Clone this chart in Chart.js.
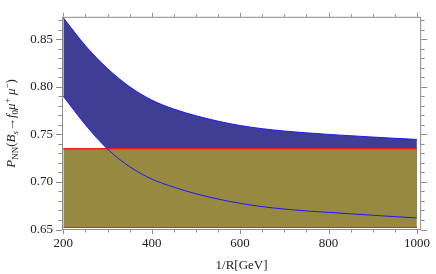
<!DOCTYPE html>
<html>
<head>
<meta charset="utf-8">
<script src="https://cdn.jsdelivr.net/npm/chart.js@4.4.1/dist/chart.umd.min.js"></script>
<style>
  html, body { margin: 0; padding: 0; background: #fff; }
</style>
</head>
<body>
<canvas id="chart" width="436" height="274"></canvas>
<script>
// data
const xVals     = [200, 250, 300, 350, 400, 450, 500, 550, 600, 650, 700, 750, 800, 850, 900, 950, 1000];
const upperVals = [0.8724, 0.8430, 0.8190, 0.8000, 0.7860, 0.7765, 0.7695, 0.7638, 0.7592, 0.7559, 0.7534, 0.7515, 0.7499, 0.7485, 0.7471, 0.7458, 0.7446];
const lowerVals = [0.790, 0.760, 0.7345, 0.716, 0.703, 0.6945, 0.6875, 0.682, 0.6775, 0.674, 0.6715, 0.6695, 0.668, 0.6665, 0.665, 0.6635, 0.6622];
const bandX      = [200, 1000];
const bandTop    = [0.7347, 0.7347];
const bandBottom = [0.6522, 0.6522];
const xTicks = [200, 400, 600, 800, 1000];
const yTicks = [0.65, 0.70, 0.75, 0.80, 0.85];

const SERIF = "'Liberation Serif', 'DejaVu Serif', serif";
const FRAME = '#8c8c8c';

const pts = (xs, ys) => xs.map((x, i) => ({ x: x, y: ys[i] }));

// ── frame with outward ticks (Mathematica look) ──
const framePlugin = {
  id: 'frame',
  afterDraw(chart) {
    const { ctx, chartArea: a, scales: { x, y } } = chart;
    ctx.save();
    ctx.strokeStyle = FRAME;
    ctx.lineWidth = 1;
    ctx.strokeRect(a.left + 0.5, a.top + 0.5, a.right - a.left - 1, a.bottom - a.top - 1);
    ctx.beginPath();
    for (let v = 200; v <= 1000; v += 50) {
      const px = Math.round(x.getPixelForValue(v)) + 0.5;
      const len = v % 200 === 0 ? 4 : 2.5;
      ctx.moveTo(px, a.bottom); ctx.lineTo(px, a.bottom + len);
      ctx.moveTo(px, a.top); ctx.lineTo(px, a.top - len);
    }
    for (let i = 65; i <= 87; i++) {
      const py = Math.round(y.getPixelForValue(i / 100)) + 0.5;
      const len = i % 5 === 0 ? 6 : 3.5;
      ctx.moveTo(a.left, py); ctx.lineTo(a.left - len, py);
      ctx.moveTo(a.right, py); ctx.lineTo(a.right + len, py);
    }
    ctx.stroke();
    ctx.restore();
  }
};

// ── rotated y title with sub/superscripts ──
const yTitlePlugin = {
  id: 'ytitle',
  afterDraw(chart) {
    const { ctx, chartArea: a } = chart;
    const parts = [
      { t: 'P', f: 'italic 13px', dy: 0 },
      { t: 'NN', f: '9px', dy: 3 },
      { t: '(', f: '13px', dy: 0 },
      { t: 'B', f: 'italic 13px', dy: 0 },
      { t: 's', f: 'italic 9px', dy: 3 },
      { t: '\u2192', f: '13px', dy: 0 },
      { t: 'f', f: 'italic 13px', dy: 0 },
      { t: '0', f: '9px', dy: 3 },
      { t: '\u03bc', f: 'italic 13px', dy: 0 },
      { t: '+', f: '9px', dy: -5 },
      { t: ' \u03bc', f: 'italic 13px', dy: 0 },
      { t: '\u2212', f: '9px', dy: -5 },
      { t: ')', f: '13px', dy: 0 }
    ];
    ctx.save();
    let w = 0;
    parts.forEach(p => { ctx.font = p.f + ' ' + SERIF; p.w = ctx.measureText(p.t).width; w += p.w; });
    ctx.translate(15, (a.top + a.bottom) / 2);
    ctx.rotate(-Math.PI / 2);
    ctx.fillStyle = '#222';
    ctx.textBaseline = 'alphabetic';
    let cx = -w / 2;
    parts.forEach(p => {
      ctx.font = p.f + ' ' + SERIF;
      ctx.fillText(p.t, cx, p.dy);
      cx += p.w;
    });
    ctx.restore();
  }
};

new Chart(document.getElementById('chart'), {
  type: 'line',
  data: {
    datasets: [
      {
        data: pts(xVals, upperVals),
        borderColor: '#1a1aff',
        borderWidth: 1,
        backgroundColor: 'rgb(64,61,148)',
        fill: '+1',
        pointRadius: 0,
        cubicInterpolationMode: 'monotone',
        order: 4
      },
      {
        data: pts(xVals, lowerVals),
        borderColor: '#1a1aff',
        borderWidth: 1,
        fill: false,
        pointRadius: 0,
        cubicInterpolationMode: 'monotone',
        order: 2
      },
      {
        data: pts(bandX, bandTop),
        borderColor: '#f01c1c',
        borderWidth: 1.5,
        backgroundColor: 'rgb(152,137,65)',
        fill: '+1',
        pointRadius: 0,
        order: 3
      },
      {
        data: pts(bandX, bandBottom),
        borderColor: '#f01c1c',
        borderWidth: 1,
        fill: false,
        pointRadius: 0,
        order: 1
      }
    ]
  },
  options: {
    responsive: false,
    animation: false,
    devicePixelRatio: 1,
    layout: { padding: { top: 4, right: 9, left: 0, bottom: 0 } },
    plugins: { legend: { display: false }, tooltip: { enabled: false } },
    scales: {
      x: {
        type: 'linear',
        min: 197,
        max: 1009.6,
        afterBuildTicks: s => { s.ticks = xTicks.map(v => ({ value: v })); },
        afterFit: s => { s.height = 44; },
        grid: { display: false, drawTicks: false, tickLength: 0 },
        border: { display: false },
        ticks: {
          autoSkip: false, maxRotation: 0, padding: 6,
          color: '#222', font: { family: SERIF, size: 13 },
          callback: v => String(v)
        },
        title: {
          display: true, text: '1/R[GeV]', color: '#222',
          font: { family: SERIF, size: 13 }, padding: { top: 0, bottom: 1 }
        }
      },
      y: {
        type: 'linear',
        min: 0.6495,
        max: 0.8734,
        afterBuildTicks: s => { s.ticks = yTicks.map(v => ({ value: v })); },
        afterFit: s => { s.width = 62; },
        grid: { display: false, drawTicks: false, tickLength: 0 },
        border: { display: false },
        ticks: {
          padding: 9, color: '#222', font: { family: SERIF, size: 13 },
          callback: v => v.toFixed(2)
        }
      }
    }
  },
  plugins: [framePlugin, yTitlePlugin]
});
</script>
</body>
</html>
